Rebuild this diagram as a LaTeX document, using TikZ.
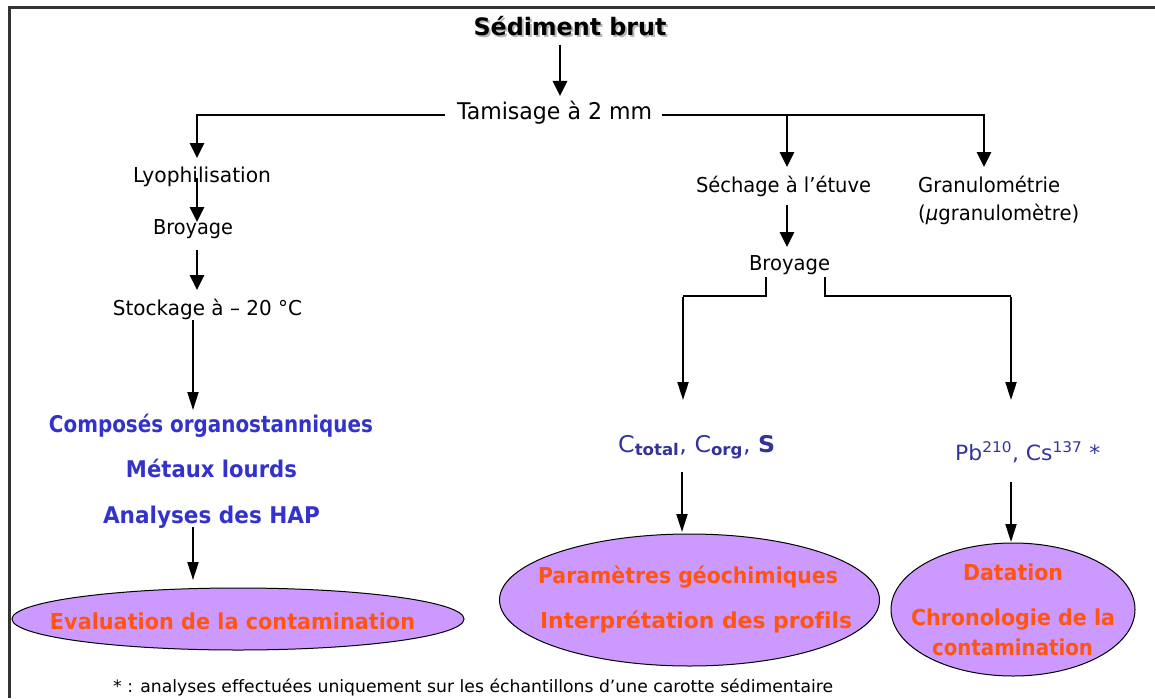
\documentclass[tikz,border=0pt]{standalone}
\usepackage{fontspec}
\setmainfont{DejaVu Sans}[Ligatures=NoCommon]
\usetikzlibrary{arrows.meta,shapes.geometric}
\definecolor{myblue}{HTML}{3333CC}
\definecolor{dblue}{HTML}{333399}
\definecolor{orng}{HTML}{FF5511}
\definecolor{lav}{HTML}{CC99FF}
\definecolor{framec}{HTML}{333333}
\newcommand{\fw}[2]{\resizebox{#1pt}{\height}{#2}}
\newcommand{\fs}[1]{\fontsize{#1}{#1}\selectfont}
\begin{document}
\begin{tikzpicture}[x=1pt,y=-1pt,
  txt/.style={inner sep=0pt, anchor=base},
  ltxt/.style={inner sep=0pt, anchor=base west},
  arr/.style={line width=2.8pt, -{Triangle[length=15pt,width=14pt]}},
  arrthin/.style={line width=2pt, -{Triangle[length=18pt,width=11pt]}},
  ln/.style={line width=1.5pt},
  ell/.style={ellipse, draw, fill=lav, line width=1pt, inner sep=0pt}]
\useasboundingbox (0,0) rectangle (1155,698);
% frame
\draw[framec, line width=3pt] (9,698) -- (9,7.5) -- (1155,7.5);

% ellipses
\node[ell, minimum width=452pt, minimum height=62pt] (e1) at (238,619) {};
\node[ell, minimum width=380pt, minimum height=132pt] (e2) at (689.5,600) {};
\node[ell, minimum width=244pt, minimum height=133pt] (e3) at (1013,609.5) {};

% title with shadow
\node[txt, gray!55] (sedsh) at (572,38) {\fs{24}\fw{193}{\bfseries Sédiment brut}};
\node[txt] (sed) at (570,36) {\fs{24}\fw{193}{\bfseries Sédiment brut}};

\node[txt] (tam) at (554.5,119) {\fs{23}\fw{195}{Tamisage à 2 mm}};

% left column
\node[txt] (lyo) at (202,182) {\fs{20.5}\fw{138}{Lyophilisation}};
\node[txt] (broyL) at (193,234) {\fs{20.5}\fw{80}{Broyage}};
\node[txt] (stock) at (207.5,315) {\fs{20.5}\fw{189}{Stockage à – 20 °C}};
\node[txt, myblue] (comp) at (211,432) {\fs{23}\fw{324}{\bfseries Composés organostanniques}};
\node[txt, myblue] (met) at (211.5,477) {\fs{23}\fw{171}{\bfseries Métaux lourds}};
\node[txt, myblue] (hap) at (211.5,523) {\fs{23}\fw{217}{\bfseries Analyses des HAP}};
\node[txt, orng] (eval) at (232.5,629) {\fs{22}\fw{365}{\bfseries Evaluation de la contamination}};

% middle column
\node[txt] (sech) at (783.5,192) {\fs{20.5}\fw{175}{Séchage à l’étuve}};
\node[txt] (broyR) at (789.5,270) {\fs{20.5}\fw{81}{Broyage}};
\node[ltxt, dblue] (ctot) at (618,452) {\fs{23}\fw{157}{C\textsubscript{\bfseries total}, C\textsubscript{\bfseries org}, \bfseries S}};
\node[txt, orng] (param) at (688,583) {\fs{22}\fw{300}{\bfseries Paramètres géochimiques}};
\node[txt, orng] (interp) at (696,628) {\fs{22}\fw{312}{\bfseries Interprétation des profils}};

% right column
\node[ltxt] (gran) at (918,192) {\fs{20.5}\fw{142}{Granulométrie}};
\node[ltxt] (gran2) at (918,220) {\fs{20.5}\fw{161}{(\textit{µ}granulomètre)}};
\node[ltxt, dblue] (pb) at (955,460) {\fs{21}\fw{145}{Pb\textsuperscript{210}, Cs\textsuperscript{137} *}};
\node[txt, orng] (dat) at (1013,580) {\fs{22}\fw{100}{\bfseries Datation}};
\node[txt, orng] (chrono) at (1013,625) {\fs{22}\fw{204}{\bfseries Chronologie de la}};
\node[txt, orng] (cont) at (1012.5,655) {\fs{22}\fw{161}{\bfseries contamination}};

% footnote
\node[ltxt] (foot) at (113,692) {\fs{17}\fw{720}{* : analyses effectuées uniquement sur les échantillons d’une carotte sédimentaire}};

% connector coordinates
\coordinate (sedB) at (560,45);
\coordinate (tamT) at (560,96);
\coordinate (tamL) at (445,115);
\coordinate (tamR) at (662,115);
\coordinate (lyoT) at (197,158);
\coordinate (lyoB) at (197,178);
\coordinate (broyLT) at (197,222);
\coordinate (broyLB) at (197,250);
\coordinate (stockT) at (197,290);
\coordinate (stockB) at (193,320);
\coordinate (compT) at (193,410);
\coordinate (hapB) at (193,527);
\coordinate (e1T) at (193,580);
\coordinate (sechT) at (787,167);
\coordinate (sechB) at (787,205);
\coordinate (broyRT) at (787,247);
\coordinate (granT) at (984,167);
\coordinate (bL) at (766,277);
\coordinate (bR) at (825,277);
\coordinate (jL) at (683,296);
\coordinate (jR) at (1011,296);
\coordinate (ctotT) at (683,400);
\coordinate (pbT) at (1011,400);
\coordinate (ctotB) at (682,472);
\coordinate (e2T) at (682,532);
\coordinate (pbB) at (1011,482);
\coordinate (e3T) at (1011,542);

% connectors
\draw[arr] (sedB) -- (tamT);
\draw[ln] (tamL) -- (197,115);
\draw[arr] (197,114.3) -- (lyoT);
\draw[ln] (tamR) -- (984,115);
\draw[arr] (787,114.3) -- (sechT);
\draw[arr] (984,114.3) -- (granT);
\draw[arr] (lyoB) -- (broyLT);
\draw[arr] (broyLB) -- (stockT);
\draw[arrthin] (stockB) -- (compT);
\draw[arrthin] (hapB) -- (e1T);
\draw[arr] (sechB) -- (broyRT);
\draw[ln] (bL) |- (jL);
\draw[ln] (bR) |- (jR);
\draw[arrthin] (683,297) -- (ctotT);
\draw[arrthin] (1011,297) -- (pbT);
\draw[arrthin] (ctotB) -- (e2T);
\draw[arrthin] (pbB) -- (e3T);
\end{tikzpicture}
\end{document}
